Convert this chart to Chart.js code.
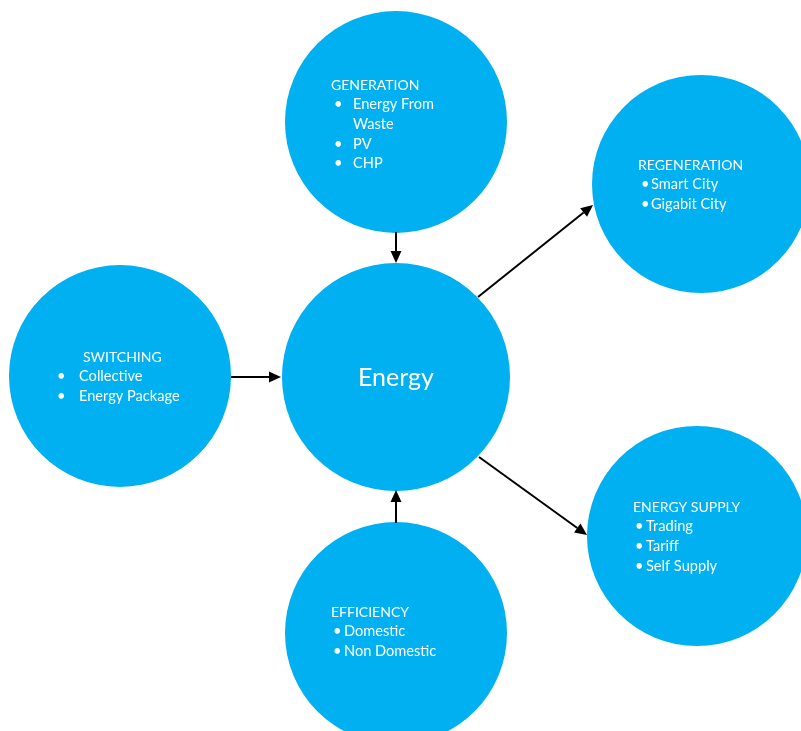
<!DOCTYPE html>
<html>
<head>
<meta charset="utf-8">
<script src="https://cdn.jsdelivr.net/npm/chart.js@4.4.1/dist/chart.umd.min.js"></script>
<style>
  html, body { margin: 0; padding: 0; background: #ffffff; }
  #wrap { width: 801px; height: 731px; position: relative; }
</style>
</head>
<body>
<div id="wrap"><canvas id="c" width="801" height="731"></canvas></div>
<script>
// ---- data (diagram nodes) ----
const nodeNames  = ["GENERATION", "REGENERATION", "SWITCHING", "Energy", "ENERGY SUPPLY", "EFFICIENCY"];
const nodeItems  = [
  ["Energy From\nWaste", "PV", "CHP"],
  ["Smart City", "Gigabit City"],
  ["Collective", "Energy Package"],
  [],
  ["Trading", "Tariff", "Self Supply"],
  ["Domestic", "Non Domestic"]
];
const nodeX      = [396, 701, 120, 396, 697, 396];
const nodeY      = [122, 184, 376, 377, 536, 633];
const nodeR      = [111, 109, 111, 114, 110, 111];
// text anchor (left of title, centre of title line)
const labelX     = [331, 638, 83, 396, 633, 331];
const labelY     = [85, 165, 357, 378, 507, 612];
const bulletX    = [334, 641, 57, 0, 635, 333];
const itemX      = [353, 651, 79, 0, 646, 344];
// arrows: from -> to
const arrowFromX = [396, 231, 396, 478, 479];
const arrowFromY = [232, 377, 523, 297, 457];
const arrowToX   = [396, 281, 396, 593, 587];
const arrowToY   = [263, 377, 490, 205, 535];

const FILL = "#00B0F0";
const FONT = "Lato, 'Open Sans', sans-serif";

const points = nodeX.map((x, i) => ({ x: x, y: nodeY[i], r: nodeR[i] }));

const overlay = {
  id: "overlay",
  afterDatasetsDraw(chart) {
    const ctx = chart.ctx;
    const xs = chart.scales.x, ys = chart.scales.y;
    // arrows
    ctx.save();
    ctx.strokeStyle = "#000";
    ctx.fillStyle = "#000";
    ctx.lineWidth = 2;
    for (let i = 0; i < arrowFromX.length; i++) {
      const x1 = xs.getPixelForValue(arrowFromX[i]);
      const y1 = ys.getPixelForValue(arrowFromY[i]);
      const x2 = xs.getPixelForValue(arrowToX[i]);
      const y2 = ys.getPixelForValue(arrowToY[i]);
      const a = Math.atan2(y2 - y1, x2 - x1);
      const hl = 12, hw = 5.5;
      const bx = x2 - hl * Math.cos(a), by = y2 - hl * Math.sin(a);
      ctx.beginPath();
      ctx.moveTo(x1, y1);
      ctx.lineTo(bx, by);
      ctx.stroke();
      ctx.beginPath();
      ctx.moveTo(x2, y2);
      ctx.lineTo(bx + hw * Math.sin(a), by - hw * Math.cos(a));
      ctx.lineTo(bx - hw * Math.sin(a), by + hw * Math.cos(a));
      ctx.closePath();
      ctx.fill();
    }
    ctx.restore();
    // labels
    ctx.save();
    ctx.fillStyle = "#ffffff";
    ctx.textBaseline = "middle";
    const lh = 19.6;
    for (let i = 0; i < nodeNames.length; i++) {
      const lx = xs.getPixelForValue(labelX[i]);
      const ly = ys.getPixelForValue(labelY[i]);
      if (nodeItems[i].length === 0) {
        ctx.font = "25px " + FONT;
        ctx.textAlign = "center";
        ctx.fillText(nodeNames[i], lx, ly);
        continue;
      }
      ctx.textAlign = "left";
      ctx.font = "14px " + FONT;
      ctx.fillText(nodeNames[i], lx, ly);
      ctx.font = "14.6px " + FONT;
      let line = 1;
      const bx = xs.getPixelForValue(bulletX[i]);
      const tx = xs.getPixelForValue(itemX[i]);
      nodeItems[i].forEach(item => {
        const parts = item.split("\n");
        ctx.fillText("\u2022", bx, ly + line * lh);
        parts.forEach(p => {
          ctx.fillText(p, tx, ly + line * lh);
          line++;
        });
      });
    }
    ctx.restore();
  }
};

new Chart(document.getElementById("c"), {
  type: "bubble",
  data: {
    datasets: [{
      data: points,
      backgroundColor: FILL,
      borderWidth: 0,
      hoverBorderWidth: 0,
      hoverRadius: 0,
      clip: false
    }]
  },
  options: {
    responsive: false,
    animation: false,
    events: [],
    layout: { padding: 0, autoPadding: false },
    plugins: { legend: { display: false }, tooltip: { enabled: false } },
    scales: {
      x: { type: "linear", min: 0, max: 801, display: false },
      y: { type: "linear", min: 0, max: 731, reverse: true, display: false }
    },
    elements: { point: { hoverRadius: 0 } }
  },
  plugins: [overlay]
});
</script>
</body>
</html>
